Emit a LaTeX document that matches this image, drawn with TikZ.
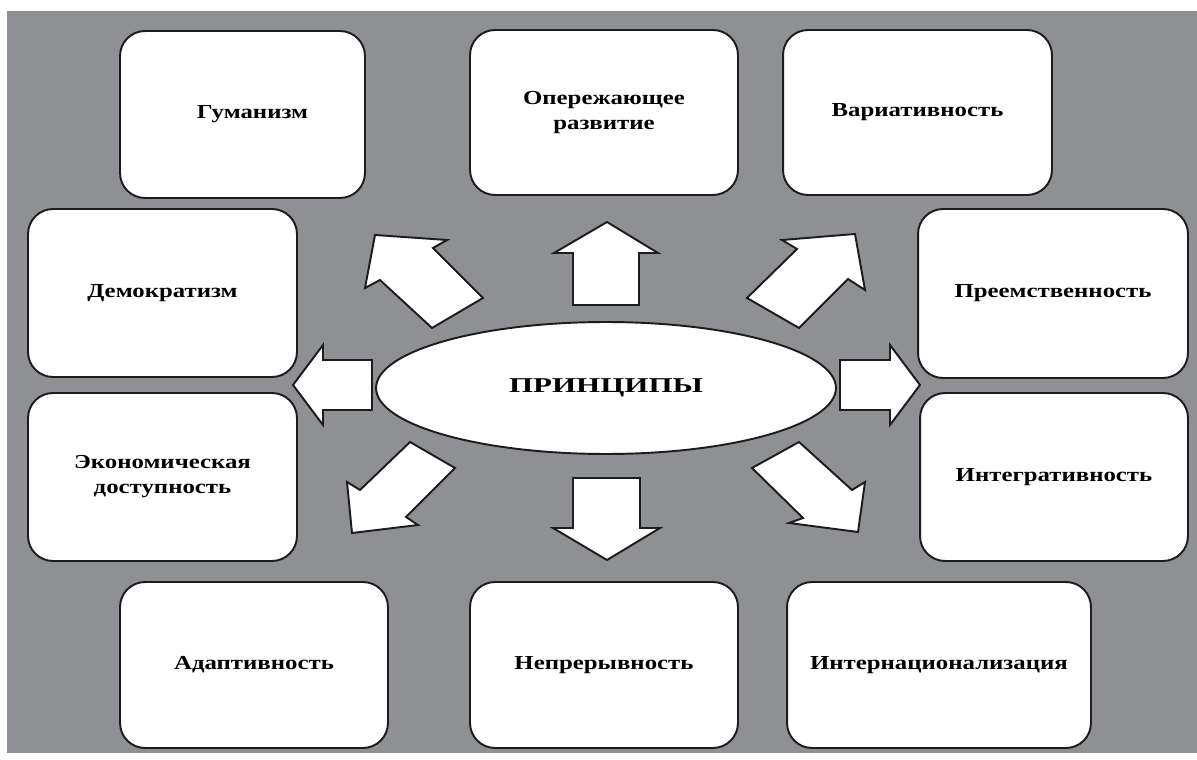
\documentclass[tikz,border=0pt]{standalone}
\usepackage{fontspec}
\setmainfont{Liberation Serif}
\newfontfamily\boxfont[FakeStretch=1.25]{Liberation Serif}
\newfontfamily\mainlabelfont[FakeStretch=1.47]{Liberation Serif}
\usetikzlibrary{shapes.geometric}
\definecolor{bggray}{RGB}{142,144,147}
\definecolor{edge}{RGB}{28,28,28}
\tikzset{
  prbox/.style={draw=edge, line width=1.1pt, fill=white, rounded corners=0.5cm,
    align=center, inner sep=2pt,
    font=\boxfont\bfseries\fontsize{11.3}{14.2}\selectfont},
  prcore/.style={draw=edge, line width=1.1pt, fill=white, ellipse, inner sep=0pt,
    minimum width=9.2cm, minimum height=2.64cm,
    font=\mainlabelfont\bfseries\fontsize{12}{14}\selectfont},
  blockarrow/.style={draw=edge, line width=1.1pt, fill=white, line join=miter}
}
\begin{document}
\begin{tikzpicture}[x=0.02cm, y=-0.02cm]
\useasboundingbox (0,0) rectangle (1197,760);
\fill[white] (0,0) rectangle (1197,760);
\fill[bggray] (7,11) rectangle (1197,753);

% boxes
\node[prbox, minimum width=4.9cm,  minimum height=3.34cm] (hum)  at (242.5,114.5) {\hspace*{0.4cm}Гуманизм};
\node[prbox, minimum width=5.36cm, minimum height=3.3cm]  (adv)  at (604,112.5)   {Опережающее\\развитие};
\node[prbox, minimum width=5.38cm, minimum height=3.3cm]  (var)  at (917.5,112.5) {Вариативность};
\node[prbox, minimum width=5.38cm, minimum height=3.36cm] (dem)  at (162.5,293)   {Демократизм};
\node[prbox, minimum width=5.4cm,  minimum height=3.38cm] (suc)  at (1053,293.5)  {Преемственность};
\node[prbox, minimum width=5.38cm, minimum height=3.36cm] (eco)  at (162.5,477)   {Экономическая\\доступность};
\node[prbox, minimum width=5.36cm, minimum height=3.36cm] (int)  at (1054,477)    {Интегративность};
\node[prbox, minimum width=5.36cm, minimum height=3.32cm] (ada)  at (254,665)     {Адаптивность};
\node[prbox, minimum width=5.36cm, minimum height=3.32cm] (con)  at (604,665)     {Непрерывность};
\node[prbox, minimum width=6.08cm, minimum height=3.32cm] (inl)  at (939,665)     {Интернационализация};

% central ellipse
\node[prcore] (core) at (606,388) {ПРИНЦИПЫ};

% block arrows
% up
\draw[blockarrow] (607,222) -- (658,253) -- (639,253) -- (639,305) -- (573,305) -- (573,253) -- (554,253) -- cycle;
% down
\draw[blockarrow] (607,560) -- (660,528) -- (640,528) -- (640,478) -- (573,478) -- (573,528) -- (553,528) -- cycle;
% left
\draw[blockarrow] (293,385) -- (323,345) -- (323,360) -- (372,360) -- (372,410) -- (323,410) -- (323,425) -- cycle;
% right
\draw[blockarrow] (920,385) -- (890,345) -- (890,360) -- (840,360) -- (840,410) -- (890,410) -- (890,425) -- cycle;
% upper left
\draw[blockarrow] (375,235) -- (447,240) -- (433,248) -- (483,298) -- (432,328) -- (380,280) -- (365,288) -- cycle;
% upper right
\draw[blockarrow] (855,234) -- (865,290) -- (848,279) -- (799,328) -- (747,298) -- (797,249) -- (782,240) -- cycle;
% lower left
\draw[blockarrow] (352,533) -- (347,482) -- (360,490) -- (410,442) -- (455,468) -- (406,517) -- (418,525) -- cycle;
% lower right
\draw[blockarrow] (858,532) -- (865,482) -- (852,490) -- (799,442) -- (752,468) -- (803,518) -- (789,523) -- cycle;
\end{tikzpicture}
\end{document}
